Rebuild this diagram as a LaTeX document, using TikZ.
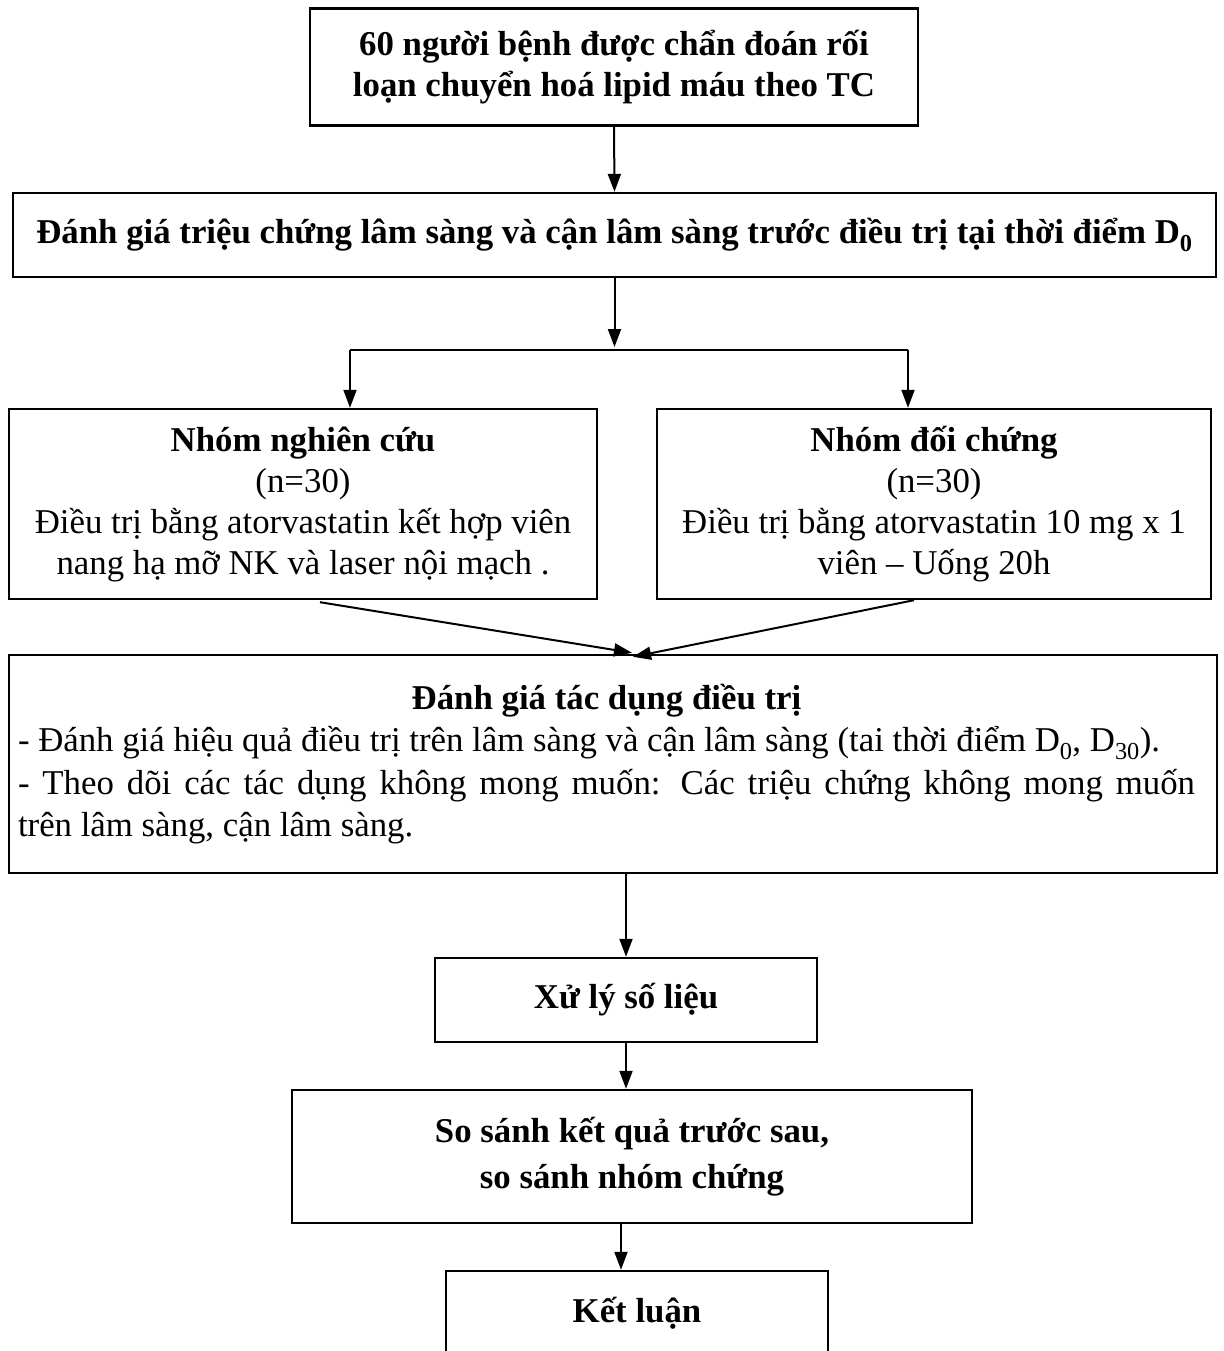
\documentclass[tikz,border=0pt]{standalone}
\usepackage{fontspec}
\setmainfont{Liberation Serif}
\usetikzlibrary{arrows.meta}

\begin{document}
\begin{tikzpicture}[x=1pt,y=-1pt,
    box/.style={draw, line width=2.4pt, inner sep=0pt, align=center, font=\fontsize{34.8}{41}\selectfont},
    arr/.style={line width=2pt, -{Triangle[length=18pt,width=13pt]}}]
    \useasboundingbox (0,0) rectangle (1223,1351);
    \clip (0,0) rectangle (1223,1351);

    \node[box, minimum width=608pt, minimum height=117pt] (b1) at (614,67)
      {\bfseries 60 người bệnh được chẩn đoán rối\\ \bfseries loạn chuyển hoá lipid máu theo TC};
    \node[box, minimum width=1203pt, minimum height=84pt] (b2) at (614.5,235)
      {\bfseries Đánh giá triệu chứng lâm sàng và cận lâm sàng trước điều trị tại thời điểm D\textsubscript{0}};

    \node[box, minimum width=588pt, minimum height=190pt] (grp1) at (303,504)
      {\bfseries Nhóm nghiên cứu\\ (n=30)\\ Điều trị bằng atorvastatin kết hợp viên\\ nang hạ mỡ NK và laser nội mạch .};
    \node[box, minimum width=554pt, minimum height=190pt] (grp2) at (934,504)
      {\bfseries Nhóm đối chứng\\ (n=30)\\ Điều trị bằng atorvastatin 10 mg x 1\\ viên -- Uống 20h};

    \node[box, minimum width=1208pt, minimum height=218pt] (eval) at (613,764)
      {\hspace*{-13pt}\raisebox{-5pt}{\parbox{1177pt}{\fontsize{34.8}{42.3}\selectfont
       \makebox[\linewidth]{\bfseries Đánh giá tác dụng điều trị}\\
       - Đánh giá hiệu quả điều trị trên lâm sàng và cận lâm sàng (tai thời điểm D\textsubscript{0}, D\textsubscript{30}).\\
       \makebox[\linewidth][s]{- Theo dõi các tác dụng không mong muốn: Các triệu chứng không mong muốn}\\
       trên lâm sàng, cận lâm sàng.}}};

    \node[box, minimum width=382pt, minimum height=84pt] (b5) at (626,1000) {\bfseries Xử lý số liệu};
    \node[box, minimum width=680pt, minimum height=133pt] (b6) at (632,1156.5)
      {\bfseries So sánh kết quả trước sau,\\[5pt] \bfseries so sánh nhóm chứng};
    \node[box, minimum width=382pt, minimum height=84pt] (b7) at (637,1313) {\bfseries Kết luận};

    % connectors
    \coordinate (split) at (614.5,347);
    \coordinate (forkL) at (350,350);
    \coordinate (forkR) at (908,350);
    \draw[arr] (b1.south) -- (b2.north);
    \draw[arr] (b2.south) -- (split);
    \draw[line width=2pt] (forkL) -- (forkR);
    \draw[arr] (forkL) -- (forkL |- grp1.north);
    \draw[arr] (forkR) -- (forkR |- grp2.north);
    \draw[arr] ([xshift=17pt,yshift=-2pt]grp1.south) -- ([xshift=19pt,yshift=1pt]eval.north);
    \draw[arr] ([xshift=-20pt]grp2.south) -- ([xshift=20pt,yshift=-3pt]eval.north);
    \draw[arr] (eval.south -| b5.north) -- (b5.north);
    \draw[arr] (b5.south) -- (b5.south |- b6.north);
    \draw[arr] ([xshift=-16pt]b6.south -| b7.north) -- ([xshift=-16pt]b7.north);
\end{tikzpicture}
\end{document}
